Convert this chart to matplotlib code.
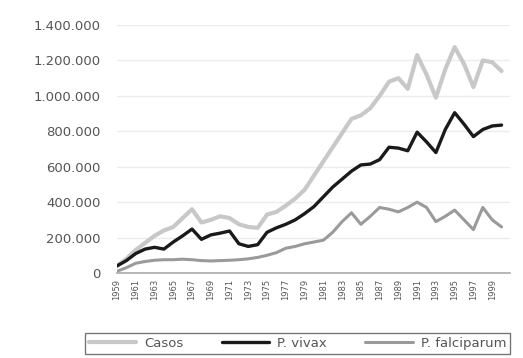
import matplotlib
matplotlib.use("Agg")
import matplotlib.pyplot as plt
from matplotlib.ticker import FuncFormatter, FixedLocator

years = list(range(1959, 2001))

casos = [40, 80, 130, 170, 210, 240, 260, 310, 360, 285,
         300, 320, 310, 275, 260, 255, 330, 345, 380, 420,
         470, 550, 630, 710, 790, 870, 890, 930, 1000, 1080,
         1100, 1040, 1230, 1120, 990, 1150, 1275, 1180, 1050, 1200,
         1190, 1140]
vivax = [40, 70, 110, 135, 145, 135, 175, 210, 248, 190,
         215, 225, 237, 165, 150, 160, 230, 255, 275, 300,
         335, 375, 430, 485, 530, 575, 610, 615, 640, 710,
         705, 690, 795, 740, 680, 810, 905, 840, 770, 810,
         830, 835]
falciparum = [10, 30, 55, 65, 72, 75, 75, 78, 75, 70,
              68, 70, 72, 75, 80, 88, 100, 115, 140, 150,
              165, 175, 185, 230, 290, 340, 275, 320, 370, 360,
              345, 370, 400, 370, 290, 320, 355, 300, 245, 370,
              300, 260]

series_labels = ["Casos", "P. vivax", "P. falciparum"]
tick_years = list(range(1959, 2000, 2))
y_ticks = list(range(0, 1400001, 200000))

fig = plt.figure(figsize=(5.23, 3.58), dpi=100)
ax = fig.add_axes([117/523, 85/358, 393/523, 248/358])

scale = 1000
ax.plot(years, [v*scale for v in casos], color="#c8c8c8", lw=3.0, label=series_labels[0], solid_capstyle="round")
ax.plot(years, [v*scale for v in vivax], color="#1a1a1a", lw=2.4, label=series_labels[1], solid_capstyle="round")
ax.plot(years, [v*scale for v in falciparum], color="#9a9a9a", lw=2.2, label=series_labels[2], solid_capstyle="round")

ax.set_xlim(1959, 2000.9)
ax.set_ylim(0, 1400000)
ax.yaxis.set_major_locator(FixedLocator(y_ticks))
ax.yaxis.set_major_formatter(FuncFormatter(lambda v, p: f"{int(v):,}".replace(",", ".")))
ax.set_xticks(tick_years)
ax.set_xticklabels([str(y) for y in tick_years], rotation=90, fontsize=6, color="#555555")
ax.tick_params(axis="y", labelsize=9.5, colors="#555555", length=0, pad=12)
ax.tick_params(axis="x", length=0, pad=4)
ax.grid(axis="y", color="#ececec", lw=1)
ax.set_axisbelow(True)
for s in ["top", "right", "left"]:
    ax.spines[s].set_visible(False)
ax.spines["bottom"].set_color("#aaaaaa")
ax.spines["bottom"].set_linewidth(1.2)

leg = fig.legend(loc="upper left", bbox_to_anchor=(85/523, 0.0, 425/523, 1 - 333/358),
                 mode="expand", ncol=3, fontsize=9.5, handlelength=3.6,
                 frameon=True, fancybox=False, edgecolor="#555555", borderaxespad=0,
                 columnspacing=1.2, handletextpad=0.6, borderpad=0.3)
leg.get_frame().set_linewidth(1.0)
for t in leg.get_texts():
    t.set_color("#555555")

fig.savefig("out.png", dpi=100)
